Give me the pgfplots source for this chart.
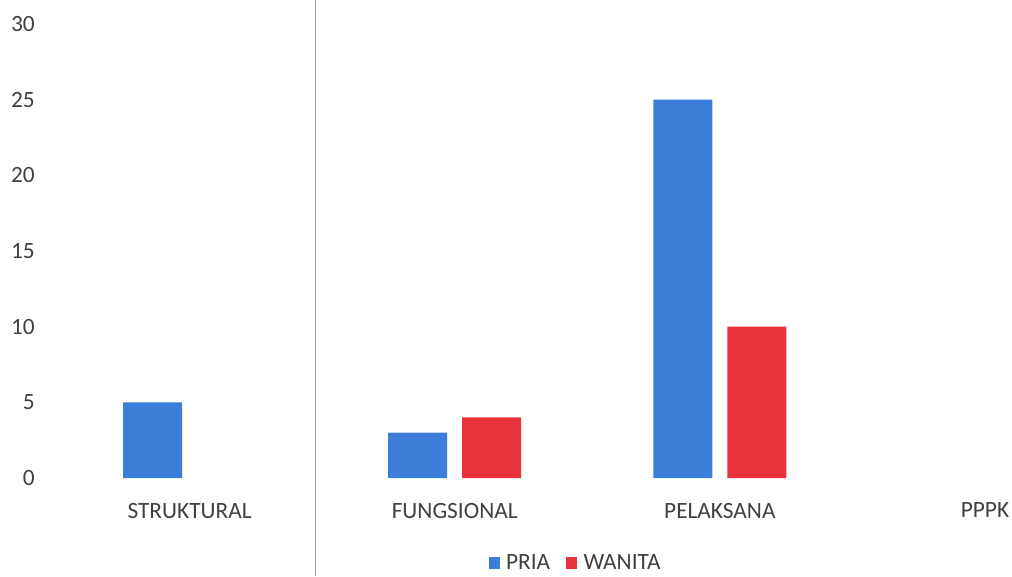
\documentclass[border=0pt]{standalone}
\usepackage{fontspec}
\setmainfont{Carlito}
\usepackage{pgfplots}
\pgfplotsset{compat=1.18}
\definecolor{pria}{HTML}{3B7DD8}
\definecolor{wanita}{HTML}{E8333C}
\definecolor{txt}{HTML}{404040}
\begin{document}
\begin{tikzpicture}
\begin{axis}[
  name=ax, at={(0,0)}, anchor=south west,
  scale only axis, width=716.25pt, height=340.5pt,
  xmin=-0.5, xmax=3.102, ymin=0, ymax=30,
  ytick={0,5,...,30},
  xtick={0,1,2,3},
  xticklabels={STRUKTURAL,FUNGSIONAL,PELAKSANA,PPPK},
  ybar=11.25pt, bar width=44.25pt,
  axis line style={draw=none}, major tick length=0pt,
  tick label style={font=\fontsize{17.5}{21}\selectfont, text=txt},
  /pgf/number format/assume math mode=true,
  yticklabel style={anchor=east, inner sep=0pt, xshift=-16.5pt},
  xticklabel style={anchor=north, inner sep=0pt, yshift=-18.5pt},
  clip=false,
  legend columns=2,
  legend style={at={(0.5435,-0.187)}, anchor=center, draw=none, fill=none,
    font=\fontsize{17.5}{21}\selectfont, text=txt,
    /tikz/every even column/.append style={column sep=10pt}},
  legend image code/.code={\path (0pt,0pt) -- (11pt,0pt);\fill[#1] (0pt,-4.2pt) rectangle (8.4pt,4.2pt);},
]
\addplot[fill=pria, draw=none] coordinates {(0,5) (1,3) (2,25)};
\addplot[fill=wanita, draw=none] coordinates {(1,4) (2,10)};
\legend{PRIA, WANITA}
\draw[gray!75, line width=1pt] (axis cs:0.4755,31.59) -- (axis cs:0.4755,-6.48);
\end{axis}
\pgfresetboundingbox
\path[use as bounding box] (-42.75pt,-73.5pt) rectangle (716.25pt,358.5pt);
\end{tikzpicture}
\end{document}
